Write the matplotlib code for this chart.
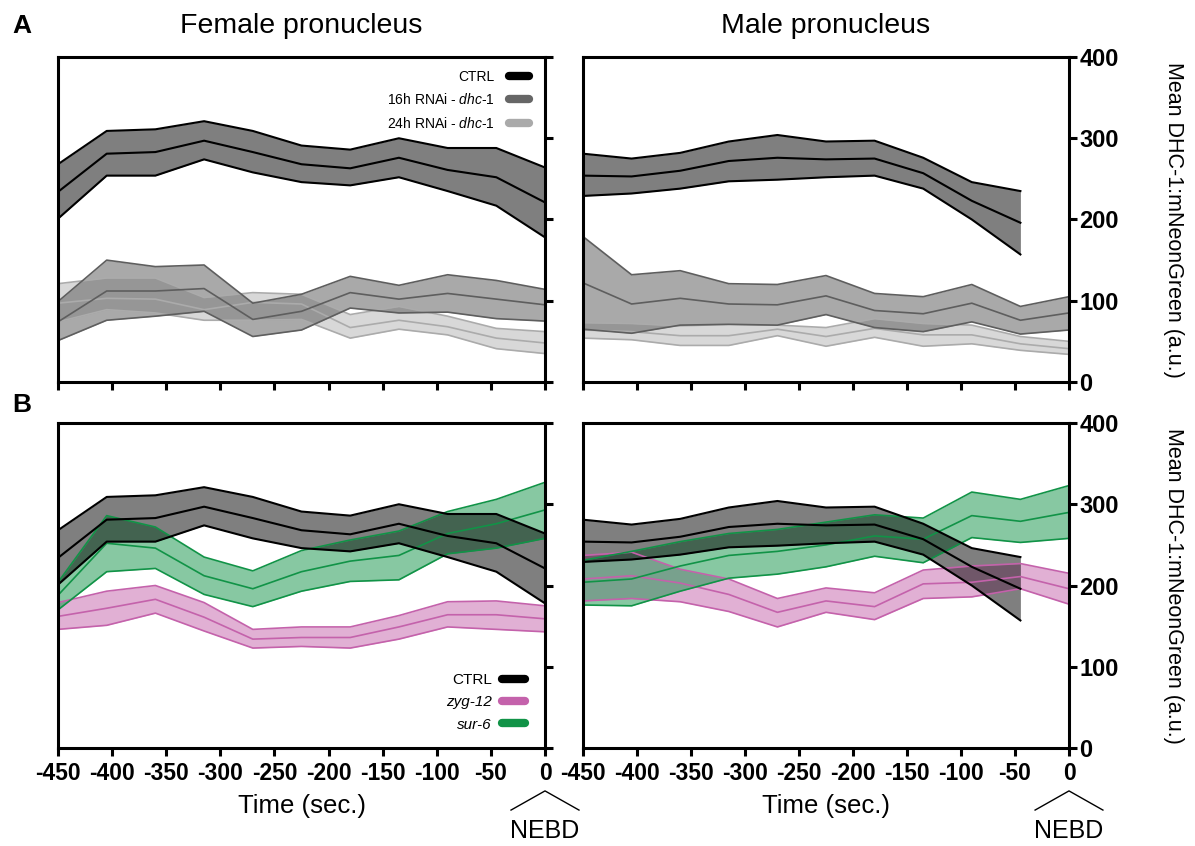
import numpy as np
import matplotlib
matplotlib.use("Agg")
import matplotlib.pyplot as plt
import matplotlib.transforms as mtransforms
from matplotlib.lines import Line2D

plt.rcParams['font.family'] = ['Liberation Sans', 'DejaVu Sans']
plt.rcParams['mathtext.fontset'] = 'custom'
plt.rcParams['mathtext.it'] = 'Liberation Sans:italic'
plt.rcParams['mathtext.rm'] = 'Liberation Sans'
plt.rcParams['axes.unicode_minus'] = False

# ---------------- data ----------------
t = [-450, -405, -360, -315, -270, -225, -180, -135, -90, -45, 0]
t_male_ctrl = t[:-1]   # male CTRL stops at -45 s

# female pronucleus
fem_ctrl_mean = [234, 281, 283, 297, 283, 268, 263, 276, 261, 252, 221]
fem_ctrl_hi = [268, 309, 311, 321, 309, 291, 286, 300, 288, 288, 264]
fem_ctrl_lo = [201, 254, 254, 274, 258, 246, 242, 252, 235, 217, 178]

fem_16h_mean = [74, 112, 112, 115, 77, 87, 110, 102, 109, 102, 95]
fem_16h_hi = [99, 150, 142, 144, 97, 108, 130, 119, 132, 125, 114]
fem_16h_lo = [51, 76, 81, 87, 56, 64, 91, 85, 86, 78, 75]

fem_24h_mean = [97, 103, 102, 89, 98, 96, 67, 76, 68, 54, 48]
fem_24h_hi = [121, 128, 128, 104, 110, 108, 83, 93, 81, 66, 62]
fem_24h_lo = [74, 89, 85, 76, 76, 77, 54, 65, 58, 41, 35]

fem_zyg_mean = [162, 172, 183, 161, 134, 136, 136, 149, 164, 164, 159]
fem_zyg_hi = [179, 193, 200, 179, 146, 149, 149, 163, 180, 181, 175]
fem_zyg_lo = [146, 151, 166, 144, 123, 125, 123, 134, 149, 146, 143]

fem_sur_mean = [188, 252, 246, 212, 196, 217, 230, 237, 264, 276, 293]
fem_sur_hi = [204, 286, 272, 235, 218, 243, 256, 267, 291, 306, 327]
fem_sur_lo = [170, 217, 221, 189, 174, 193, 205, 207, 239, 246, 258]

# male pronucleus
male_ctrl_mean = [254, 253, 260, 272, 276, 274, 275, 257, 223, 196]
male_ctrl_hi = [281, 275, 282, 296, 304, 296, 297, 276, 246, 235]
male_ctrl_lo = [229, 232, 238, 247, 249, 252, 254, 238, 200, 157]

male_16h_mean = [122, 96, 103, 96, 95, 106, 88, 84, 97, 76, 85]
male_16h_hi = [179, 132, 137, 121, 120, 131, 109, 105, 120, 93, 105]
male_16h_lo = [65, 60, 70, 71, 70, 83, 67, 62, 74, 59, 64]

male_24h_mean = [64, 62, 57, 57, 65, 56, 66, 58, 58, 47, 41]
male_24h_hi = [73, 72, 69, 71, 70, 67, 78, 72, 70, 56, 50]
male_24h_lo = [54, 52, 45, 45, 57, 44, 55, 44, 47, 39, 34]

male_zyg_mean = [208, 212, 203, 189, 167, 181, 174, 202, 204, 211, 196]
male_zyg_hi = [237, 241, 220, 208, 184, 197, 191, 219, 224, 227, 215]
male_zyg_lo = [181, 184, 180, 168, 149, 167, 158, 184, 186, 196, 177]

male_sur_mean = [204, 208, 224, 237, 242, 250, 261, 257, 286, 279, 290]
male_sur_hi = [231, 242, 254, 264, 269, 278, 287, 283, 315, 306, 323]
male_sur_lo = [176, 175, 193, 209, 214, 223, 236, 228, 259, 253, 258]

# colours
c_ctrl = '#000000'
c_16h_line, c_16h_fill, c_16h_leg = '#5e5e5e', '#555555', '#666666'
c_24h_line, c_24h_fill, c_24h_leg = '#ababab', '#a9a9a9', '#aaaaaa'
c_zyg = '#c462ab'
c_sur = '#119347'


def band(ax, x, lo, mean, hi, line_c, fill_c, alpha, lw=1.2):
    ax.fill_between(x, lo, hi, color=fill_c, alpha=alpha, linewidth=0)
    for y in (lo, mean, hi):
        ax.plot(x, y, color=line_c, lw=lw)


W, H = 1195, 846
fig = plt.figure(figsize=(W / 100, H / 100), dpi=100)
ax_tl = fig.add_axes([58 / W, 1 - 382 / H, 487 / W, 325 / H])
ax_tr = fig.add_axes([583 / W, 1 - 382 / H, 486 / W, 325 / H])
ax_bl = fig.add_axes([58 / W, 1 - 748 / H, 487 / W, 325 / H])
ax_br = fig.add_axes([583 / W, 1 - 748 / H, 486 / W, 325 / H])

# --- A: dhc-1 RNAi ---
band(ax_tl, t, fem_24h_lo, fem_24h_mean, fem_24h_hi, c_24h_line, c_24h_fill, 0.45)
band(ax_tl, t, fem_16h_lo, fem_16h_mean, fem_16h_hi, c_16h_line, c_16h_fill, 0.5)
band(ax_tl, t, fem_ctrl_lo, fem_ctrl_mean, fem_ctrl_hi, c_ctrl, c_ctrl, 0.5, lw=1.5)

band(ax_tr, t, male_24h_lo, male_24h_mean, male_24h_hi, c_24h_line, c_24h_fill, 0.45)
band(ax_tr, t, male_16h_lo, male_16h_mean, male_16h_hi, c_16h_line, c_16h_fill, 0.5)
band(ax_tr, t_male_ctrl, male_ctrl_lo, male_ctrl_mean, male_ctrl_hi, c_ctrl, c_ctrl, 0.5, lw=1.5)

# --- B: zyg-12 / sur-6 ---
band(ax_bl, t, fem_zyg_lo, fem_zyg_mean, fem_zyg_hi, c_zyg, c_zyg, 0.5)
band(ax_bl, t, fem_sur_lo, fem_sur_mean, fem_sur_hi, c_sur, c_sur, 0.5)
band(ax_bl, t, fem_ctrl_lo, fem_ctrl_mean, fem_ctrl_hi, c_ctrl, c_ctrl, 0.5, lw=1.5)

band(ax_br, t, male_zyg_lo, male_zyg_mean, male_zyg_hi, c_zyg, c_zyg, 0.5)
band(ax_br, t, male_sur_lo, male_sur_mean, male_sur_hi, c_sur, c_sur, 0.5)
band(ax_br, t_male_ctrl, male_ctrl_lo, male_ctrl_mean, male_ctrl_hi, c_ctrl, c_ctrl, 0.5, lw=1.5)

# --- axes styling ---
xt = list(range(-450, 1, 50))
yt = [0, 100, 200, 300, 400]
for ax in (ax_tl, ax_tr, ax_bl, ax_br):
    ax.set_xlim(-450, 0)
    ax.set_ylim(0, 400)
    for s in ax.spines.values():
        s.set_linewidth(2.2)
    ax.yaxis.tick_right()
    ax.set_xticks(xt, labels=[str(v) for v in xt], fontweight='bold', fontsize=16.5)
    ax.set_yticks(yt, labels=[str(v) for v in yt], fontweight='bold', fontsize=17)
    ax.tick_params(direction='out', length=6, width=2.2)
    ax.tick_params(axis='y', pad=1.5)
    ax.tick_params(axis='x', pad=4)

for ax in (ax_tl, ax_bl):
    ax.tick_params(axis='y', labelright=False)
for ax in (ax_tl, ax_tr):
    ax.tick_params(axis='x', labelbottom=False)

for ax in (ax_tr, ax_br):
    ax.yaxis.set_label_position('right')
    ax.set_ylabel('Mean DHC-1:mNeonGreen (a.u.)', fontsize=15.5, rotation=270, va='center')
    ax.yaxis.set_label_coords(1.214, 0.5)

for ax in (ax_bl, ax_br):
    ax.set_xlabel('Time (sec.)', fontsize=18.5)
    ax.xaxis.set_label_coords(0.5, -0.142)
    # NEBD marker below 0
    trans = mtransforms.blended_transform_factory(ax.transData, ax.transAxes)
    ax.plot([-31.4, 0, 31.4], [-0.191, -0.132, -0.191], color='black', lw=1.0,
            transform=trans, clip_on=False)
    ax.text(0, -0.277, 'NEBD', transform=trans, ha='center', va='baseline', fontsize=18)

# --- legends ---
h_top = [Line2D([0], [0], color=c, lw=6, solid_capstyle='round')
         for c in (c_ctrl, c_16h_leg, c_24h_leg)]
ax_tl.legend(h_top, ['CTRL', r'16h RNAi - $\mathit{dhc}$-$\mathit{1}$',
                     r'24h RNAi - $\mathit{dhc}$-$\mathit{1}$'],
             loc='upper right', bbox_to_anchor=(0.967, 0.96), frameon=False,
             markerfirst=False, fontsize=10, handlelength=1.45, handletextpad=1.0,
             labelspacing=0.6, borderpad=0, borderaxespad=0)

h_bot = [Line2D([0], [0], color=c, lw=6, solid_capstyle='round')
         for c in (c_ctrl, c_zyg, c_sur)]
leg = ax_bl.legend(h_bot, ['CTRL', 'zyg-12', 'sur-6'],
                   loc='lower right', bbox_to_anchor=(0.958, 0.05), frameon=False,
                   markerfirst=False, fontsize=11, handlelength=1.5, handletextpad=0.65,
                   labelspacing=0.55, borderpad=0, borderaxespad=0)
leg.get_texts()[1].set_fontstyle('italic')
leg.get_texts()[2].set_fontstyle('italic')

# --- titles and panel letters ---
fig.text((58 + 545) / 2 / W, 1 - 33 / H, 'Female pronucleus', ha='center', va='baseline', fontsize=20.5)
fig.text((583 + 1069) / 2 / W, 1 - 33 / H, 'Male pronucleus', ha='center', va='baseline', fontsize=20.5)
fig.text(12 / W, 1 - 33 / H, 'A', ha='left', va='baseline', fontsize=19, fontweight='bold')
fig.text(12 / W, 1 - 412 / H, 'B', ha='left', va='baseline', fontsize=19, fontweight='bold')

fig.savefig('out.png', dpi=100)
